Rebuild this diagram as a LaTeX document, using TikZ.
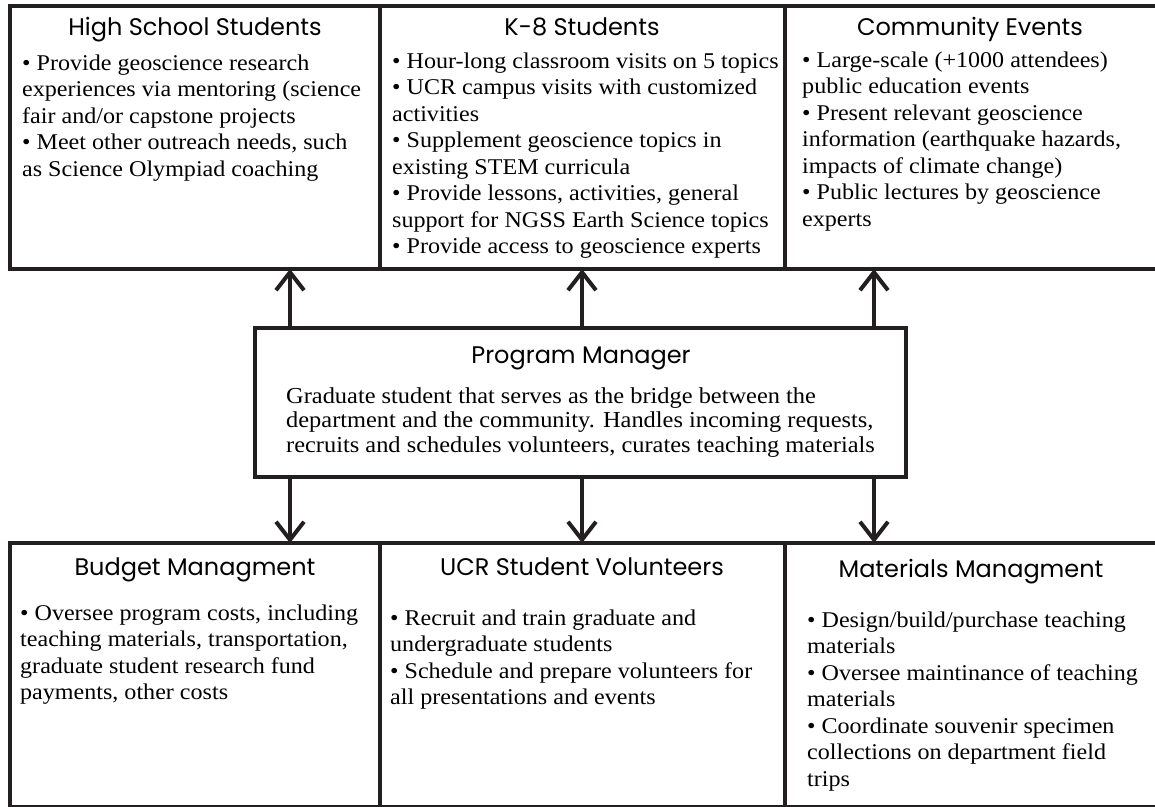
\documentclass[tikz,border=0pt]{standalone}
\usepackage{fontspec}
\setmainfont[FakeStretch=1.07]{Liberation Serif}
\newfontfamily\headfont{Poppins}
\usetikzlibrary{arrows.meta}
\definecolor{ink}{HTML}{231F20}
\begin{document}
\begin{tikzpicture}[x=1pt,y=-1pt,
  panel/.style={draw=ink, line width=4pt, rectangle, inner sep=0pt, outer sep=0pt, anchor=north west},
  heading/.style={font=\headfont\fontsize{24}{28}\selectfont, inner sep=0pt, anchor=base},
  bodytext/.style={font=\fontsize{22.5}{26.5}\selectfont, align=left, inner sep=0pt, anchor=north west},
  pmtext/.style={bodytext, font=\fontsize{22.8}{24.5}\selectfont},
  link/.style={draw=ink, line width=4pt, -{Straight Barb[length=18pt,width=28pt]}}]
\useasboundingbox (0,0) rectangle (1155,806);

% upper row of panels
\node[panel, minimum width=370pt, minimum height=263pt] (hs) at (10,6) {};
\node[panel, minimum width=405pt, minimum height=263pt] (k8) at (380,6) {};
\node[panel, minimum width=372pt, minimum height=263pt] (ce) at (785,6) {};

% lower row of panels
\node[panel, minimum width=370pt, minimum height=264pt] (bm) at (10,543) {};
\node[panel, minimum width=405pt, minimum height=264pt] (uv) at (380,543) {};
\node[panel, minimum width=372pt, minimum height=264pt] (mm) at (785,543) {};

% central panel
\node[panel, minimum width=651pt, minimum height=149pt] (pm) at (255,328) {};

% headings
\node[heading] (hs-t) at (195,35) {High School Students};
\node[heading] (k8-t) at (582,35) {K-8 Students};
\node[heading] (ce-t) at (970,35) {Community Events};
\node[heading] (pm-t) at (581,363) {Program Manager};
\node[heading] (bm-t) at (195,575) {Budget Managment};
\node[heading] (uv-t) at (582,575) {UCR Student Volunteers};
\node[heading] (mm-t) at (971,577) {Materials Managment};

% panel texts
\node[bodytext] (hs-b) at (22,54.6) {• Provide geoscience research\\
experiences via mentoring (science\\
fair and/or capstone projects\\
• Meet other outreach needs, such\\
as Science Olympiad coaching};
\node[bodytext] (k8-b) at (392,52.6) {• Hour-long classroom visits on 5 topics\\
• UCR campus visits with customized\\
activities\\
• Supplement geoscience topics in\\
existing STEM curricula\\
• Provide lessons, activities, general\\
support for NGSS Earth Science topics\\
• Provide access to geoscience experts};
\node[bodytext] (ce-b) at (802,51.6) {• Large-scale (+1000 attendees)\\
public education events\\
• Present relevant geoscience\\
information (earthquake hazards,\\
impacts of climate change)\\
• Public lectures by geoscience\\
experts};
\node[pmtext] (pm-b) at (286,387.4) {Graduate student that serves as the bridge between the\\
department and the community. Handles incoming requests,\\
recruits and schedules volunteers, curates teaching materials};
\node[bodytext] (bm-b) at (20,604.6) {• Oversee program costs, including\\
teaching materials, transportation,\\
graduate student research fund\\
payments, other costs};
\node[bodytext] (uv-b) at (390,609.6) {• Recruit and train graduate and\\
undergraduate students\\
• Schedule and prepare volunteers for\\
all presentations and events};
\node[bodytext] (mm-b) at (807,611.6) {• Design/build/purchase teaching\\
materials\\
• Oversee maintinance of teaching\\
materials\\
• Coordinate souvenir specimen\\
collections on department field\\
trips};

% connector columns
\coordinate (col1) at (290,0);
\coordinate (col2) at (582,0);
\coordinate (col3) at (874,0);

% upward links
\draw[link] (pm.north -| col1) -- (hs.south -| col1);
\draw[link] (pm.north -| col2) -- (k8.south -| col2);
\draw[link] (pm.north -| col3) -- (ce.south -| col3);

% downward links
\draw[link] (pm.south -| col1) -- (bm.north -| col1);
\draw[link] (pm.south -| col2) -- (uv.north -| col2);
\draw[link] (pm.south -| col3) -- (mm.north -| col3);
\end{tikzpicture}
\end{document}
